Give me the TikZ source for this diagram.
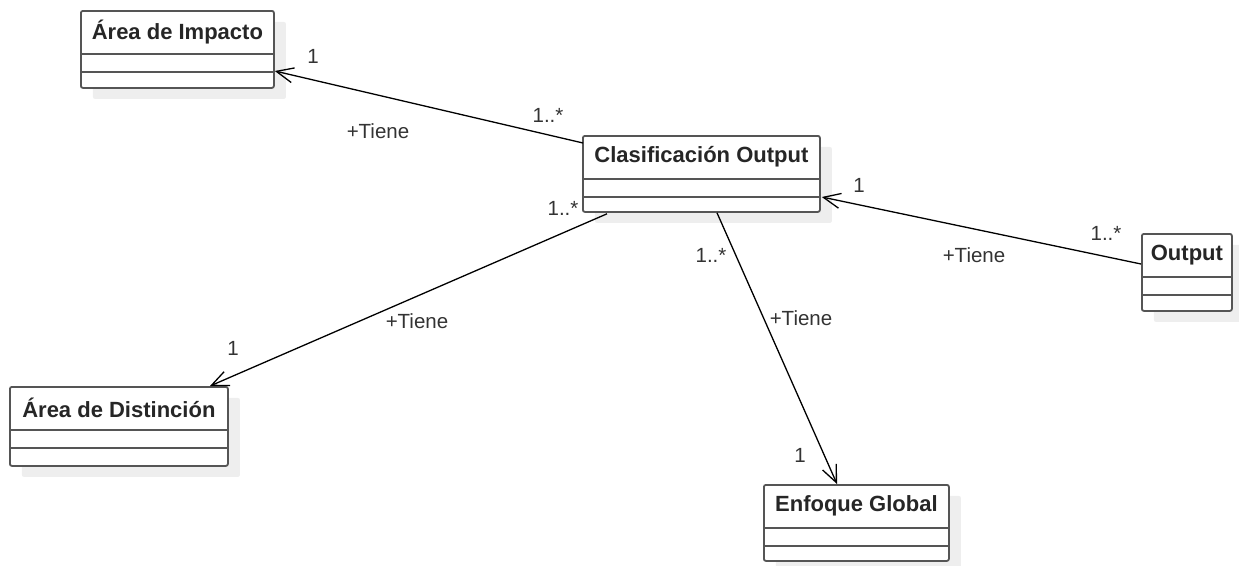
\documentclass[tikz,border=0pt]{standalone}
\usepackage{fontspec}
\setmainfont{Liberation Sans}
\usetikzlibrary{arrows.meta,shadows,calc}
\definecolor{border}{HTML}{555555}
\definecolor{shade}{HTML}{EEEEEE}
\definecolor{titletxt}{HTML}{262626}
\definecolor{labeltxt}{HTML}{333333}
\newcommand\umlclass[6]{%
  \node[classbox, minimum width=#4pt, minimum height=#5pt, anchor=north west] (#1) at (#2,#3) {};
  \node[classtitle] (#1-t) at ($(#1.north)+(0,22)$) {#6};
  \draw[divider] ($(#1.north west)+(0,44)$) -- ($(#1.north east)+(0,44)$);
  \draw[divider] ($(#1.north west)+(0,62)$) -- ($(#1.north east)+(0,62)$);
}
\begin{document}
\begin{tikzpicture}[x=1pt,y=-1pt,
  classbox/.style={draw=border, line width=1.8pt, rounded corners=2pt, fill=white, inner sep=0pt,
    drop shadow={shadow xshift=12pt, shadow yshift=-11pt, fill=shade, opacity=1}},
  classtitle/.style={inner sep=0pt, text=titletxt, font=\fontsize{22}{26}\selectfont\bfseries},
  divider/.style={draw=border, line width=1.8pt},
  assoc/.style={draw=black, line width=1.3pt, -{Straight Barb[length=17pt, width=15pt, line width=1.3pt]}},
  lbl/.style={inner sep=0pt, anchor=base, text=labeltxt, font=\fontsize{20.5}{24}\selectfont}
]
\useasboundingbox (0,0) rectangle (1239,565);

\umlclass{AI}{80}{10}{193}{77}{Área de Impacto}
\umlclass{CO}{582}{135}{237}{76}{Clasificación Output}
\umlclass{OU}{1141}{233}{90}{77}{Output}
\umlclass{AD}{9}{386}{218}{79}{Área de Distinción}
\umlclass{EG}{763}{484}{185}{76}{Enfoque Global}

% connectors
\draw[assoc] ($(CO.north west)+(1,8)$) -- ($(AI.north east)+(0,61)$);
\draw[assoc] ($(CO.south west)+(25,1)$) -- ($(AD.north west)+(201,0)$);
\draw[assoc] ($(CO.south west)+(135,0)$) -- ($(EG.north west)+(74,0)$);
\draw[assoc] ($(OU.north west)+(0,31)$) -- ($(CO.north east)+(1,62)$);

% labels
\node[lbl] (l1a) at (313,63) {1};
\node[lbl] (l1b) at (548,122) {1..*};
\node[lbl] (l1c) at (378,138) {+Tiene};

\node[lbl] (l2a) at (563,215) {1..*};
\node[lbl] (l2b) at (233,355) {1};
\node[lbl] (l2c) at (417,328) {+Tiene};

\node[lbl] (l3a) at (711,262) {1..*};
\node[lbl] (l3b) at (801,325) {+Tiene};
\node[lbl] (l3c) at (800,462) {1};

\node[lbl] (l4a) at (859,192) {1};
\node[lbl] (l4b) at (1106,240) {1..*};
\node[lbl] (l4c) at (974,262) {+Tiene};
\end{tikzpicture}
\end{document}
